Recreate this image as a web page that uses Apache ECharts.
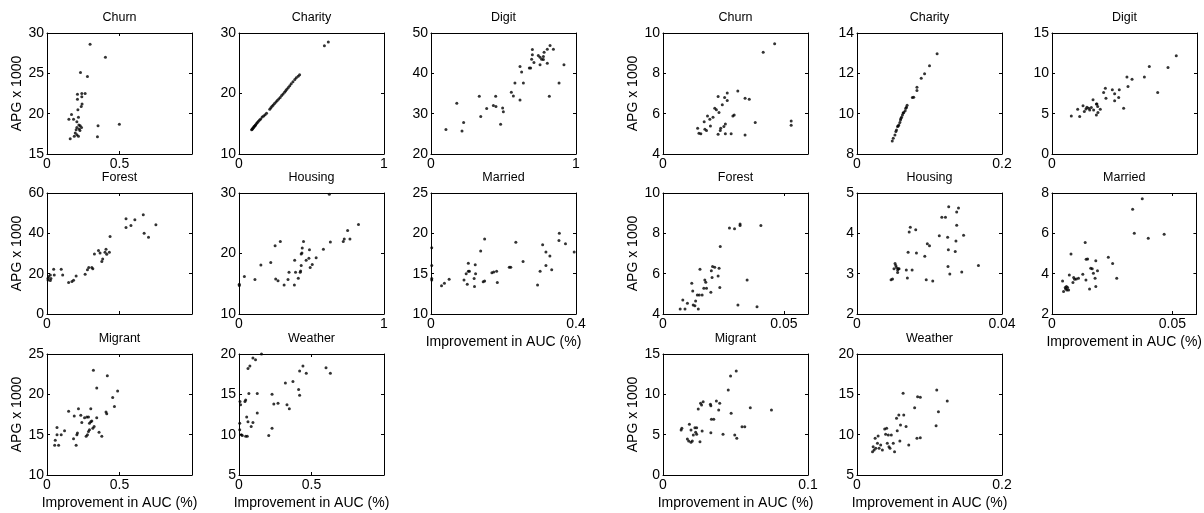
<!DOCTYPE html>
<html>
<head>
<meta charset="utf-8">
<script src="https://cdn.jsdelivr.net/npm/echarts@6/dist/echarts.min.js"></script>
<style>
  html, body { margin: 0; padding: 0; background: #fff; }
  #chart { width: 1204px; height: 513px; }
</style>
</head>
<body>
<div id="chart"></div>
<script>
// panel titles, same order in both groups
const titles = ['Churn', 'Charity', 'Digit', 'Forest', 'Housing', 'Married', 'Migrant', 'Weather']

// left group: [improvement in AUC (%), APG x 1000]
const churnL = [[0.297,28.6],[0.403,27.0],[0.231,25.1],[0.279,24.6],[0.21,22.4],[0.24,22.5],[0.263,22.5],[0.24,22.1],
  [0.21,21.8],[0.242,21.2],[0.236,20.9],[0.213,20.5],[0.169,19.9],[0.151,19.3],[0.183,19.3],[0.217,19.55],[0.206,19.0],
  [0.22,18.6],[0.229,18.5],[0.206,18.3],[0.238,18.3],[0.201,18.0],[0.227,17.9],[0.195,17.6],[0.206,17.4],[0.188,17.2],
  [0.217,17.2],[0.16,16.9],[0.348,17.15],[0.352,18.5],[0.499,18.7],[0.222,18.1]]
const charityL = [[0.087,14.0],[0.091,14.1],[0.095,14.25],[0.099,14.35],[0.103,14.5],[0.107,14.6],[0.111,14.7],[0.115,14.85],
  [0.121,15.05],[0.127,15.2],[0.134,15.4],[0.142,15.6],[0.15,15.8],[0.16,16.1],[0.17,16.3],[0.18,16.5],[0.19,16.75],
  [0.212,17.4],[0.22,17.65],[0.228,17.9],[0.236,18.1],[0.245,18.35],[0.255,18.6],[0.264,18.85],[0.274,19.1],[0.284,19.35],
  [0.294,19.65],[0.304,19.9],[0.314,20.2],[0.322,20.45],[0.33,20.7],[0.34,21.0],[0.35,21.3],[0.36,21.6],[0.372,21.95],
  [0.385,22.3],[0.395,22.6],[0.408,22.85],[0.418,23.1],[0.589,27.9],[0.616,28.5]]
const digitL = [[0.103,26.1],[0.178,32.6],[0.214,25.7],[0.225,27.8],[0.333,34.3],[0.343,29.3],[0.384,31.3],[0.43,32.0],
  [0.446,34.3],[0.448,31.8],[0.48,27.4],[0.494,31.4],[0.499,30.5],[0.554,35.3],[0.568,34.4],[0.579,37.6],[0.614,33.4],
  [0.614,41.7],[0.625,40.3],[0.637,37.6],[0.678,41.3],[0.687,41.3],[0.694,43.5],[0.699,45.9],[0.699,44.6],[0.71,42.7],
  [0.74,44.4],[0.752,44.0],[0.763,43.5],[0.775,44.2],[0.775,43.4],[0.78,45.2],[0.752,42.1],[0.802,42.5],[0.802,46.0],
  [0.821,46.9],[0.844,46.0],[0.816,34.3],[0.883,37.6],[0.917,42.1]]
const forestL = [[0.007,17.7],[0.007,16.8],[0.011,18.6],[0.023,19.4],[0.023,16.6],[0.027,17.6],[0.046,22.2],[0.05,19.4],
  [0.098,22.2],[0.108,19.4],[0.149,15.6],[0.172,16.1],[0.183,16.7],[0.201,18.9],[0.263,19.7],[0.279,21.9],[0.288,23.0],
  [0.309,23.0],[0.316,22.4],[0.327,29.8],[0.355,31.5],[0.366,30.2],[0.378,26.0],[0.384,27.3],[0.4,30.6],[0.407,32.1],
  [0.412,29.6],[0.43,30.6],[0.435,38.4],[0.545,47.2],[0.545,42.9],[0.579,43.9],[0.606,46.7],[0.664,49.2],[0.67,40.1],
  [0.7,38.0],[0.751,44.3]]
const housingL = [[0.002,14.7],[0.002,14.9],[0.037,16.2],[0.11,15.7],[0.151,18.1],[0.219,18.5],[0.249,21.3],[0.253,15.8],
  [0.269,15.5],[0.285,22.0],[0.311,14.8],[0.338,15.7],[0.345,16.9],[0.382,14.8],[0.384,18.9],[0.39,16.9],[0.409,15.9],
  [0.422,16.9],[0.425,17.1],[0.429,18.0],[0.429,19.9],[0.434,20.1],[0.436,20.9],[0.445,22.0],[0.463,18.9],[0.482,19.2],
  [0.486,20.6],[0.491,17.7],[0.505,18.2],[0.532,19.3],[0.582,20.7],[0.623,29.8],[0.63,21.9],[0.719,22.0],[0.726,22.4],
  [0.749,23.8],[0.765,22.4],[0.824,24.8]]
const marriedL = [[0.002,18.2],[0.002,16.0],[0.002,14.4],[0.002,14.2],[0.029,13.5],[0.037,13.8],[0.05,14.3],[0.091,14.2],
  [0.097,15.0],[0.1,13.7],[0.103,16.3],[0.103,15.3],[0.106,15.3],[0.119,14.4],[0.12,13.4],[0.122,16.1],[0.123,15.0],
  [0.137,17.8],[0.144,14.0],[0.148,14.1],[0.148,19.3],[0.168,15.1],[0.173,15.2],[0.181,15.3],[0.183,13.9],[0.216,15.8],
  [0.22,15.8],[0.234,18.9],[0.254,16.5],[0.294,13.6],[0.301,15.3],[0.308,18.6],[0.317,17.7],[0.317,16.0],[0.328,17.2],
  [0.333,15.5],[0.354,20.0],[0.353,19.1],[0.371,18.7],[0.395,17.7]]
const migrantL = [[0.053,13.7],[0.057,14.3],[0.069,15.0],[0.069,15.9],[0.08,13.7],[0.098,15.0],[0.121,15.5],[0.149,17.9],
  [0.183,14.5],[0.188,17.3],[0.201,13.7],[0.206,15.0],[0.21,15.2],[0.217,18.2],[0.233,17.4],[0.24,16.5],[0.259,17.1],
  [0.27,14.8],[0.275,17.2],[0.279,15.0],[0.286,17.2],[0.286,15.4],[0.293,16.4],[0.293,15.6],[0.302,16.6],[0.302,18.2],
  [0.309,16.7],[0.316,15.8],[0.32,23.0],[0.325,16.0],[0.343,20.8],[0.343,17.1],[0.359,15.3],[0.378,14.8],[0.407,17.8],
  [0.412,17.6],[0.416,22.3],[0.453,19.6],[0.465,18.5],[0.487,20.4]]
const weatherL = [[0.005,11.4],[0.005,10.6],[0.007,14.1],[0.011,13.7],[0.016,10.0],[0.023,9.9],[0.041,14.1],[0.046,14.3],
  [0.046,9.8],[0.053,12.2],[0.057,9.8],[0.062,18.2],[0.062,11.6],[0.068,15.1],[0.075,18.5],[0.084,11.0],[0.096,11.5],
  [0.096,19.5],[0.114,19.3],[0.126,12.7],[0.126,15.1],[0.155,20.0],[0.205,9.9],[0.228,15.0],[0.228,10.8],[0.24,13.8],
  [0.269,13.9],[0.32,16.4],[0.331,13.7],[0.347,13.2],[0.372,16.6],[0.411,15.6],[0.418,14.9],[0.418,17.9],[0.441,18.5],
  [0.464,17.6],[0.6,18.3],[0.63,17.6]]

// right group
const churnR = [[0.0239,5.28],[0.0248,5.03],[0.0261,5.0],[0.0284,5.6],[0.0289,5.23],[0.03,5.16],[0.0307,5.89],[0.0323,5.72],
  [0.0327,5.39],[0.0345,5.82],[0.0357,6.27],[0.0368,6.19],[0.038,6.85],[0.038,4.98],[0.0386,6.06],[0.0395,5.16],
  [0.0398,5.28],[0.0409,6.44],[0.042,5.36],[0.0425,6.8],[0.043,5.49],[0.043,5.0],[0.0443,7.02],[0.0443,6.65],[0.047,5.0],
  [0.0482,5.89],[0.0491,5.94],[0.0516,7.13],[0.0566,6.77],[0.0566,4.94],[0.0595,6.72],[0.0636,5.56],[0.0691,9.04],
  [0.077,9.47],[0.0884,5.64],[0.0884,5.42]]
const charityR = [[0.0486,8.65],[0.05,8.78],[0.0523,8.94],[0.0536,9.11],[0.0545,9.19],[0.0559,9.36],[0.0568,9.39],[0.0577,9.44],
  [0.0591,9.56],[0.06,9.69],[0.0605,9.76],[0.0614,9.82],[0.0627,9.94],[0.0636,10.03],[0.0645,10.06],[0.0664,10.15],
  [0.0673,10.27],[0.0682,10.32],[0.0691,10.42],[0.0764,10.8],[0.0782,10.82],[0.0827,11.15],[0.0827,11.31],[0.0886,11.76],
  [0.0932,11.98],[0.1,12.38],[0.1105,12.97]]
const digitR = [[0.0133,4.72],[0.0177,5.55],[0.0191,4.64],[0.0214,5.97],[0.0223,5.26],[0.0234,5.59],[0.0241,5.8],[0.0253,5.68],
  [0.026,5.47],[0.0271,5.76],[0.0283,6.71],[0.0287,5.47],[0.0306,6.21],[0.0306,4.85],[0.031,6.21],[0.0315,5.88],
  [0.0317,5.14],[0.0333,5.55],[0.0356,7.62],[0.0368,8.16],[0.0372,6.92],[0.0416,7.95],[0.0432,7.46],[0.0432,6.59],
  [0.046,7.0],[0.0464,7.95],[0.0494,5.68],[0.0517,9.53],[0.0524,8.37],[0.0552,9.28],[0.0637,9.53],[0.0671,10.86],
  [0.0729,7.62],[0.08,10.73],[0.0857,12.18]]
const forestR = [[0.0071,4.25],[0.0082,4.7],[0.0091,4.25],[0.0101,4.53],[0.0119,5.52],[0.0123,5.14],[0.0125,4.45],[0.0132,4.41],
  [0.0135,4.65],[0.0142,4.94],[0.0146,4.25],[0.015,4.94],[0.0153,6.22],[0.0162,4.94],[0.0169,5.28],[0.0173,5.69],
  [0.0177,5.57],[0.018,5.28],[0.0198,5.08],[0.02,6.14],[0.0203,5.81],[0.0205,6.35],[0.0214,6.32],[0.0228,5.89],
  [0.0232,6.27],[0.0235,5.31],[0.0237,7.35],[0.0275,8.26],[0.0296,8.23],[0.031,4.45],[0.0319,8.39],[0.0319,8.46],
  [0.0348,5.69],[0.0389,4.36],[0.0405,8.39]]
const housingR = [[0.0094,2.85],[0.0098,2.87],[0.0102,3.12],[0.0105,3.25],[0.0107,3.2],[0.0109,3.15],[0.0112,3.09],[0.0114,3.12],
  [0.0112,3.03],[0.0116,3.12],[0.0136,3.09],[0.0139,2.89],[0.0141,3.53],[0.0144,4.03],[0.0147,4.15],[0.0152,3.09],
  [0.0162,4.09],[0.0164,3.51],[0.0187,3.43],[0.0191,2.85],[0.0194,3.74],[0.02,3.69],[0.0209,2.82],[0.0227,3.94],
  [0.0234,4.4],[0.0244,4.4],[0.025,3.9],[0.0251,3.18],[0.0252,3.59],[0.0253,4.66],[0.0256,2.99],[0.0271,3.55],
  [0.0273,3.81],[0.0275,4.2],[0.0275,4.53],[0.028,4.63],[0.0289,3.04],[0.0294,3.95],[0.0335,3.2]]
const marriedR = [[0.0044,3.64],[0.0048,3.11],[0.0055,3.31],[0.0057,3.24],[0.006,3.36],[0.0062,3.19],[0.0065,3.31],[0.0069,3.19],
  [0.0072,3.94],[0.0079,4.97],[0.0087,3.56],[0.009,3.81],[0.0094,3.72],[0.0101,3.74],[0.011,3.77],[0.0128,3.97],
  [0.0138,5.55],[0.0141,3.69],[0.0142,4.72],[0.0148,4.73],[0.0156,3.24],[0.0161,4.27],[0.0167,4.24],[0.0172,4.02],
  [0.0179,3.77],[0.0182,4.64],[0.0182,3.36],[0.0189,4.14],[0.0234,4.82],[0.0252,4.5],[0.0269,3.77],[0.0335,7.2],
  [0.0342,6.01],[0.0375,7.72],[0.04,5.76],[0.0466,5.96]]
const migrantR = [[0.0125,5.58],[0.013,5.79],[0.0168,4.46],[0.0177,4.21],[0.0182,6.28],[0.0193,4.05],[0.0193,5.58],[0.0202,4.21],
  [0.0209,4.96],[0.022,5.87],[0.0225,5.29],[0.0232,5.87],[0.0232,5.04],[0.0243,8.18],[0.0255,4.13],[0.0259,8.88],
  [0.0266,8.68],[0.027,5.45],[0.0277,9.09],[0.0327,8.76],[0.033,8.6],[0.033,5.25],[0.0334,6.9],[0.035,6.9],[0.0368,9.17],
  [0.0384,8.06],[0.0391,8.88],[0.0414,5.04],[0.045,10.54],[0.0466,12.27],[0.047,7.64],[0.0495,4.96],[0.0505,12.89],
  [0.0509,4.55],[0.0545,5.99],[0.0564,5.99],[0.0602,8.35],[0.0748,8.06]]
const weatherR = [[0.0214,7.89],[0.0223,8.51],[0.0236,8.1],[0.025,9.55],[0.0259,8.31],[0.0282,8.93],[0.0291,9.83],[0.0305,8.31],
  [0.0327,8.72],[0.035,8.1],[0.0382,10.7],[0.0395,10.04],[0.0409,10.79],[0.0418,8.93],[0.0432,9.96],[0.0441,8.51],
  [0.0455,8.31],[0.0473,9.96],[0.05,8.93],[0.0518,7.89],[0.0545,12.02],[0.0555,10.5],[0.0577,12.44],[0.0591,9.21],
  [0.06,11.2],[0.0636,15.12],[0.0645,12.44],[0.0677,11.0],[0.0714,8.72],[0.0795,13.35],[0.0827,9.55],[0.0836,14.71],
  [0.0873,9.63],[0.0873,14.63],[0.1091,11.12],[0.11,15.54],[0.1123,12.85],[0.1245,14.17]]

// axis ranges and shown tick labels
const leftX = [[1, 0.5], [1, 1], [1, 1], [1, 0.5], [1, 1], [0.4, 0.4], [1, 0.5], [1, 0.5]]
const leftXLabels = [[0, 0.5], [0, 1], [0, 1], [0], [0, 1], [0, 0.4], [0, 0.5], [0, 0.5]]
const leftY = [[15, 30, 5], [10, 30, 10], [20, 50, 10], [0, 60, 20], [10, 30, 10], [10, 25, 5], [10, 25, 5], [5, 20, 5]]
const rightX = [[0.1, 0.1], [0.2, 0.2], [0.1, 0.1], [0.06, 0.05], [0.04, 0.04], [0.06, 0.05], [0.1, 0.1], [0.2, 0.2]]
const rightXLabels = [[0], [0, 0.2], [0], [0, 0.05], [0, 0.04], [0, 0.05], [0, 0.1], [0, 0.2]]
const rightY = [[4, 10, 2], [8, 14, 2], [0, 15, 5], [4, 10, 2], [2, 5, 1], [2, 8, 2], [0, 15, 5], [5, 20, 5]]

const groups = [
  { data: [churnL, charityL, digitL, forestL, housingL, marriedL, migrantL, weatherL], x: leftX, xl: leftXLabels, y: leftY, cols: [47, 239, 431] },
  { data: [churnR, charityR, digitR, forestR, housingR, marriedR, migrantR, weatherR], x: rightX, xl: rightXLabels, y: rightY, cols: [663, 857, 1052] }
]
const rows = [33, 193, 354]
const W = 145, H = 121
const font = 'Liberation Sans, Arial, sans-serif'

const grid = [], xAxis = [], yAxis = [], series = []

function fmt(v) { return String(+v.toFixed(6)) }

groups.forEach(g => {
  g.data.forEach((d, i) => {
    const k = grid.length
    const col = i % 3, row = Math.floor(i / 3)
    grid.push({ left: g.cols[col], top: rows[row], width: W, height: H })
    const xr = g.x[i], yr = g.y[i], shown = g.xl[i]
    const tick = { show: true, inside: true, length: 3, lineStyle: { color: '#000' } }
    const line = { show: true, onZero: false, lineStyle: { color: '#000', width: 1 } }
    xAxis.push({
      type: 'value', gridIndex: k, position: 'bottom', min: 0, max: xr[0], interval: xr[1],
      axisLine: line, axisTick: tick, splitLine: { show: false },
      axisLabel: {
        color: '#000', fontSize: 14, fontFamily: font, margin: 3, showMaxLabel: true,
        formatter: v => shown.some(s => Math.abs(s - v) < 1e-9) ? fmt(v) : ''
      },
      name: i >= 5 ? 'Improvement in AUC (%)' : '', nameLocation: 'middle', nameGap: 21,
      nameTextStyle: { color: '#000', fontSize: 14, fontFamily: font }
    })
    xAxis.push({
      type: 'value', gridIndex: k, position: 'top', min: 0, max: xr[0], interval: xr[1],
      axisLine: line, axisTick: tick, axisLabel: { show: false }, splitLine: { show: false },
      name: titles[i], nameLocation: 'middle', nameGap: 9,
      nameTextStyle: { color: '#000', fontSize: 12.5, fontFamily: font }
    })
    yAxis.push({
      type: 'value', gridIndex: k, position: 'left', min: yr[0], max: yr[1], interval: yr[2],
      axisLine: line, axisTick: tick, splitLine: { show: false },
      axisLabel: { color: '#000', fontSize: 14, fontFamily: font, margin: 3 },
      name: col === 0 ? 'APG x 1000' : '', nameLocation: 'middle', nameGap: 20,
      nameTextStyle: { color: '#000', fontSize: 14, fontFamily: font }
    })
    yAxis.push({
      type: 'value', gridIndex: k, position: 'right', min: yr[0], max: yr[1], interval: yr[2],
      axisLine: line, axisTick: tick, axisLabel: { show: false }, splitLine: { show: false }
    })
    series.push({
      type: 'scatter', xAxisIndex: 2 * k, yAxisIndex: 2 * k, data: d,
      symbol: 'circle', symbolSize: 3, itemStyle: { color: '#000' }, silent: true
    })
  })
})

const chart = echarts.init(document.getElementById('chart'), null, { renderer: 'canvas' })
chart.setOption({
  animation: false,
  backgroundColor: '#fff',
  grid, xAxis, yAxis, series
})
</script>
</body>
</html>
